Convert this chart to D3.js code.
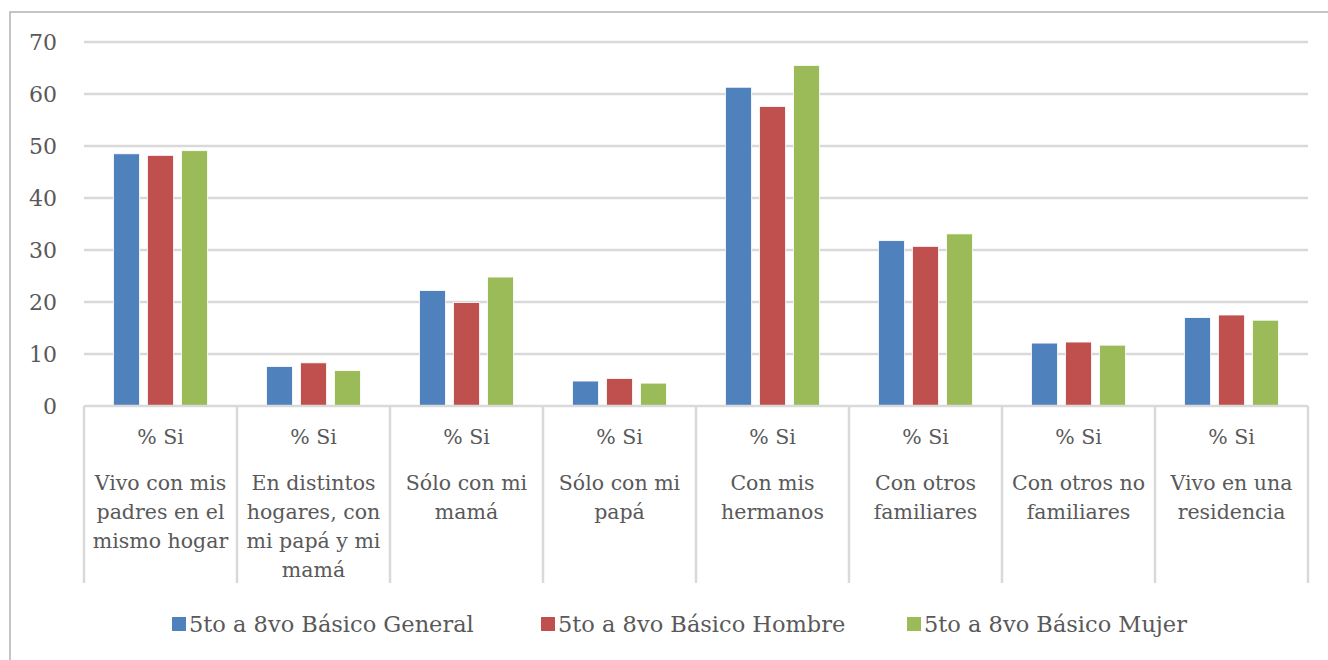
<!DOCTYPE html>
<html>
<head>
<meta charset="utf-8">
<script src="https://cdn.jsdelivr.net/npm/d3@7"></script>
<style>
  body { margin: 0; background: #fff; }
  svg { display: block; }
  text { font-family: "DejaVu Serif", serif; fill: #595959; }
</style>
</head>
<body>
<div id="chart"></div>
<script>
// Data
const categories = [
  ["Vivo con mis", "padres en el", "mismo hogar"],
  ["En distintos", "hogares, con", "mi papá y mi", "mamá"],
  ["Sólo con mi", "mamá"],
  ["Sólo con mi", "papá"],
  ["Con mis", "hermanos"],
  ["Con otros", "familiares"],
  ["Con otros no", "familiares"],
  ["Vivo en una", "residencia"]
];
const subLabel = "% Si";
const seriesNames = ["5to a 8vo Básico General", "5to a 8vo Básico Hombre", "5to a 8vo Básico Mujer"];
const seriesColors = ["#4f81bd", "#c0504d", "#9bbb59"];
const general = [48.5, 7.6, 22.2, 4.8, 61.3, 31.8, 12.1, 17.0];
const hombre  = [48.2, 8.3, 19.9, 5.3, 57.6, 30.7, 12.3, 17.5];
const mujer   = [49.1, 6.8, 24.8, 4.4, 65.5, 33.1, 11.7, 16.5];
const yTicks = [0, 10, 20, 30, 40, 50, 60, 70];

const width = 1328, height = 660;
const plot = { left: 84, right: 1308, top: 42, bottom: 406 };

const svg = d3.select("#chart").append("svg")
  .attr("width", width)
  .attr("height", height);

// outer chart frame (cropped at right/bottom)
svg.append("path")
  .attr("d", `M10,${height} V12 H${width}`)
  .attr("fill", "none")
  .attr("stroke", "#b3b3b3")
  .attr("stroke-width", 1.5);

const series = [general, hombre, mujer];
const idx = d3.range(categories.length);

const x0 = d3.scaleBand().domain(idx).range([plot.left, plot.right]).padding(0);
const groupInner = 94;
const x1 = d3.scaleBand().domain(d3.range(series.length))
  .range([0, groupInner]).paddingInner(8 / 34).paddingOuter(0);
const y = d3.scaleLinear().domain([0, 70]).range([plot.bottom, plot.top]);

// gridlines
svg.append("g")
  .selectAll("line")
  .data(yTicks.filter(d => d > 0))
  .enter().append("line")
  .attr("x1", plot.left).attr("x2", plot.right)
  .attr("y1", d => y(d)).attr("y2", d => y(d))
  .attr("stroke", "#d9d9d9")
  .attr("stroke-width", 2.5);

// y labels
svg.append("g")
  .selectAll("text")
  .data(yTicks)
  .enter().append("text")
  .attr("x", 57)
  .attr("y", d => y(d))
  .attr("dy", "0.36em")
  .attr("text-anchor", "end")
  .style("font-size", "22px")
  .text(d => d);

// bars
const groups = svg.append("g")
  .selectAll("g")
  .data(idx)
  .enter().append("g")
  .attr("transform", i => `translate(${x0(i) + (x0.bandwidth() - groupInner) / 2},0)`);

groups.selectAll("rect")
  .data(i => series.map((s, k) => ({ k, v: s[i] })))
  .enter().append("rect")
  .attr("x", d => x1(d.k))
  .attr("width", x1.bandwidth())
  .attr("y", d => y(d.v))
  .attr("height", d => y(0) - y(d.v))
  .attr("fill", d => seriesColors[d.k])
  .attr("stroke", "#fff")
  .attr("stroke-width", 0.8);

// category axis: baseline and separators
svg.append("line")
  .attr("x1", plot.left).attr("x2", plot.right)
  .attr("y1", plot.bottom).attr("y2", plot.bottom)
  .attr("stroke", "#d9d9d9").attr("stroke-width", 2.5);

svg.append("g")
  .selectAll("line")
  .data(d3.range(categories.length + 1))
  .enter().append("line")
  .attr("x1", i => plot.left + i * x0.bandwidth())
  .attr("x2", i => plot.left + i * x0.bandwidth())
  .attr("y1", plot.bottom).attr("y2", 583)
  .attr("stroke", "#d9d9d9").attr("stroke-width", 2.5);

const labels = svg.append("g")
  .selectAll("g")
  .data(idx)
  .enter().append("g")
  .attr("transform", i => `translate(${x0(i) + x0.bandwidth() / 2},0)`);

labels.append("text")
  .attr("y", 437).attr("dy", "0.36em")
  .attr("text-anchor", "middle")
  .style("font-size", "20.5px")
  .text(subLabel);

labels.append("text")
  .attr("text-anchor", "middle")
  .style("font-size", "20.5px")
  .selectAll("tspan")
  .data(i => categories[i])
  .enter().append("tspan")
  .attr("x", 0)
  .attr("y", (d, j) => 483 + j * 29)
  .attr("dy", "0.36em")
  .text(d => d);

// legend
const legendX = [172, 541, 907];
const legend = svg.append("g")
  .selectAll("g")
  .data(seriesNames)
  .enter().append("g")
  .attr("transform", (d, k) => `translate(${legendX[k]},617)`);

legend.append("rect")
  .attr("width", 14).attr("height", 14)
  .attr("fill", (d, k) => seriesColors[k]);

legend.append("text")
  .attr("x", 17).attr("y", 7).attr("dy", "0.36em")
  .style("font-size", "22.5px")
  .text(d => d);
</script>
</body>
</html>
